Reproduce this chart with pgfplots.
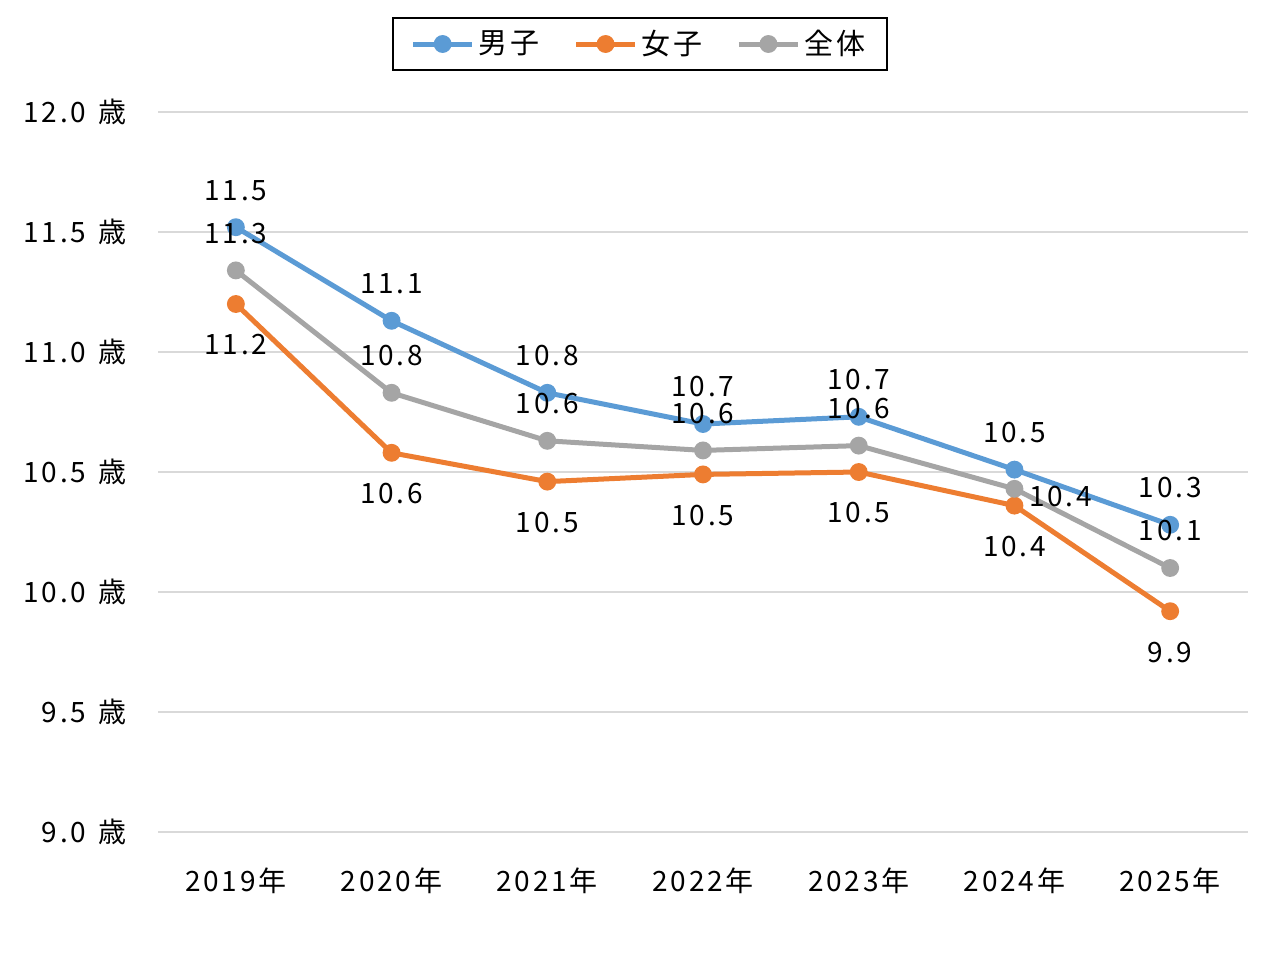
\documentclass[border=0pt]{standalone}
\usepackage{fontspec}
\setmainfont{Noto Sans CJK JP}[LetterSpace=10]
\usepackage{pgfplots}
\usepackage{pgfplotstable}
\pgfplotsset{compat=1.18}
\usetikzlibrary{calc}

\definecolor{boys}{HTML}{5B9BD5}
\definecolor{girls}{HTML}{ED7D31}
\definecolor{total}{HTML}{A5A5A5}
\definecolor{gridc}{HTML}{D9D9D9}

% x: 0 = 2019 ... 6 = 2025
\pgfplotstableread{
x boys girls total
0 11.52 11.20 11.34
1 11.13 10.58 10.83
2 10.83 10.46 10.63
3 10.70 10.49 10.59
4 10.73 10.50 10.61
5 10.51 10.36 10.43
6 10.28 9.92 10.10
}\agedata

\begin{document}
\begin{tikzpicture}
\begin{axis}[
    scale only axis,
    width=545pt, height=360pt,
    xmin=-0.5, xmax=6.5,
    ymin=9, ymax=12,
    xtick={0,...,6},
    xticklabels={2019年,2020年,2021年,2022年,2023年,2024年,2025年},
    ytick={9,9.5,10,10.5,11,11.5,12},
    /pgf/number format/assume math mode=true,
    yticklabel={\pgfmathprintnumber[fixed,fixed zerofill,precision=1]{\tick}\hspace{0.45em}歳},
    ticklabel style={font=\fontsize{14}{16}\selectfont},
    yticklabel style={xshift=-12pt},
    xticklabel style={yshift=-14.5pt},
    axis line style={draw=none},
    major tick length=0pt,
    ymajorgrids,
    grid style={gridc, line width=0.75pt},
    clip=false,
    every axis plot/.append style={line width=2.5pt, mark=*, mark size=3.2pt,
        mark options={solid}},
    nodes near coords={\pgfmathprintnumber[fixed,fixed zerofill,precision=1]{\pgfplotspointmeta}},
    every node near coord/.append style={font=\fontsize{14}{16}\selectfont,
        text=black, anchor=center},
    legend columns=3,
    legend image code/.code={%
        \draw[mark repeat=2,mark phase=2,#1] plot coordinates {(0pt,0pt) (14.75pt,0pt) (29.5pt,0pt)};},
    legend style={at={(rel axis cs:0.5,1)}, anchor=center,
        xshift=-31.5pt, yshift=34pt,
        draw=black, line width=0.9pt,
        font=\fontsize{14.5}{17}\selectfont,
        inner xsep=9pt, inner ysep=4pt,
        /tikz/every even column/.append style={column sep=15pt}},
]
\addplot[boys, every node near coord/.append style={yshift=18.5pt}]
    table[x=x, y=boys] {\agedata};
\addlegendentry{男子}
\addplot[girls, every node near coord/.append style={yshift=-20.5pt}]
    table[x=x, y=girls] {\agedata};
\addlegendentry{女子}
\addplot[total, nodes near coords={}]
    table[x=x, y=total] {\agedata};
\addlegendentry{全体}
% labels of the total series
\addplot[draw=none, mark=none, forget plot,
    x filter/.expression={x==5 ? nan : x},
    every node near coord/.append style={yshift=18.5pt}]
    table[x=x, y=total] {\agedata};
\addplot[draw=none, mark=none, forget plot,
    restrict x to domain=5:5,
    every node near coord/.append style={xshift=23pt, yshift=-4pt}]
    table[x=x, y=total] {\agedata};
\coordinate (bl) at (rel axis cs:0,0);
\coordinate (tr) at (rel axis cs:1,1);
\end{axis}
\pgfresetboundingbox
\path ($(bl)+(-79pt,-69.5pt)$) rectangle ($(tr)+(16pt,56pt)$);
\end{tikzpicture}
\end{document}
